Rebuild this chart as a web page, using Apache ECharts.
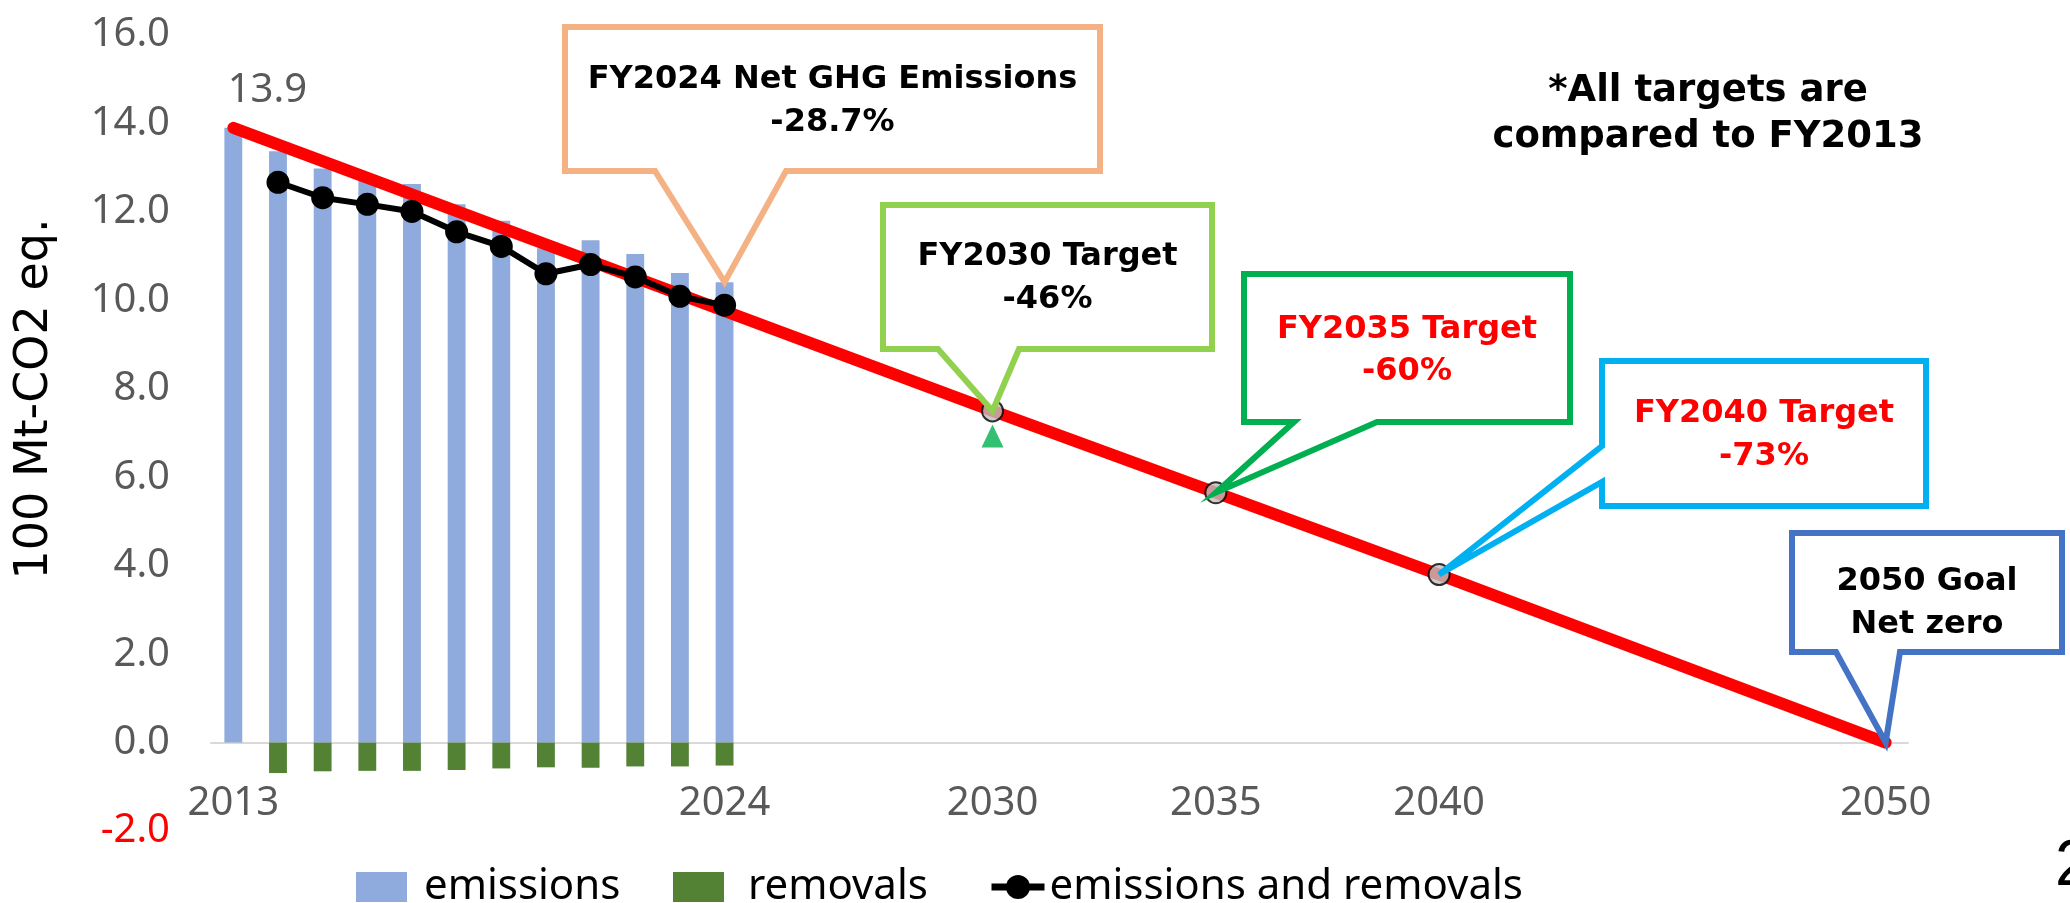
<!DOCTYPE html>
<html>
<head>
<meta charset="utf-8">
<script src="https://cdn.jsdelivr.net/npm/echarts@6/dist/echarts.min.js"></script>
<style>
  html, body { margin: 0; padding: 0; background: #fff; }
  #chart { width: 2070px; height: 903px; }
</style>
</head>
<body>
<div id="chart"></div>
<script>
const years = ['2013', '2014', '2015', '2016', '2017', '2018', '2019', '2020', '2021', '2022',
    '2023', '2024', '2025', '2026', '2027', '2028', '2029', '2030', '2031', '2032', '2033', '2034',
    '2035', '2036', '2037', '2038', '2039', '2040', '2041', '2042', '2043', '2044', '2045', '2046',
    '2047', '2048', '2049', '2050'];
const axisYears = ['2013', '2024', '2030', '2035', '2040', '2050'];

// 100 Mt-CO2 eq., FY2013..FY2024
const emissions = [13.9, 13.37, 12.98, 12.8, 12.63, 12.17, 11.8, 11.18, 11.36, 11.05, 10.62, 10.41];
const removals = [null, -0.69, -0.65, -0.64, -0.64, -0.62, -0.585, -0.56, -0.57, -0.54, -0.54, -0.52];
const netEmissions = [null, 12.67, 12.32, 12.17, 12.01, 11.55, 11.22, 10.6, 10.81, 10.53, 10.09, 9.89];

// reduction path and targets
const pathYears = ['2013', '2030', '2035', '2040', '2050'];
const pathValues = [13.9, 7.5, 5.65, 3.8, 0];
const targetYears = ['2030', '2035', '2040'];
const targetValues = [7.5, 5.65, 3.8];
const markerYears = ['2030'];
const markerValues = [6.93];

const yMin = -2, yMax = 16, yStep = 2;

const chart = echarts.init(document.getElementById('chart'));
const gray = '#595959';
const labelFont = 'Noto Sans';
const boxFont = 'DejaVu Sans';

const idx = y => years.indexOf(y);

const legendText = { color: '#000', fontFamily: labelFont, fontSize: 42, lineHeight: 42 };

chart.setOption({
    animation: false,
    backgroundColor: '#fff',
    grid: { left: 211, right: 162, top: 35, bottom: 72, containLabel: false },
    legend: [
        {
            data: ['emissions'], left: 351, top: 861, itemWidth: 51, itemHeight: 30, icon: 'rect',
            textStyle: Object.assign({ padding: [0, 0, 0, 12] }, legendText)
        },
        {
            data: ['removals'], left: 668, top: 861, itemWidth: 51, itemHeight: 30, icon: 'rect',
            textStyle: Object.assign({ padding: [0, 0, 0, 19] }, legendText)
        },
        {
            data: ['emissions and removals'], left: 983, top: 861, itemWidth: 53, itemHeight: 30,
            lineStyle: { width: 7 },
            textStyle: legendText
        }
    ],
    xAxis: {
        type: 'category',
        data: years,
        boundaryGap: true,
        axisLine: { onZero: true, lineStyle: { color: '#D9D9D9', width: 2 } },
        axisTick: { show: false },
        axisLabel: {
            interval: (i, v) => axisYears.includes(v),
            color: gray, fontFamily: labelFont, fontSize: 40, margin: -47
        },
        splitLine: { show: false }
    },
    yAxis: {
        type: 'value',
        min: yMin, max: yMax, interval: yStep,
        axisLine: { show: false },
        axisTick: { show: false },
        splitLine: { show: false },
        axisLabel: {
            formatter: v => v.toFixed(1),
            color: v => (Number(v) < 0 ? '#FF0000' : gray),
            fontFamily: labelFont, fontSize: 40, margin: 41
        }
    },
    series: [
        {
            name: 'emissions', type: 'bar', barWidth: '40%', barGap: '-100%',
            data: emissions.map((v, i) => i === 0 ? {
                value: v,
                label: {
                    show: true, position: 'top', distance: 5, offset: [34, -12],
                    formatter: p => p.value.toFixed(1),
                    color: gray, fontFamily: labelFont, fontSize: 40
                }
            } : v),
            itemStyle: { color: '#8FAADC' }
        },
        {
            name: 'removals', type: 'bar', data: removals, barWidth: '40%', barGap: '-100%',
            itemStyle: { color: '#548235' }
        },
        {
            name: 'path', type: 'line',
            data: pathYears.map((y, i) => [idx(y), pathValues[i]]),
            showSymbol: false, symbol: 'none',
            lineStyle: { color: '#FF0000', width: 12, cap: 'round' },
            z: 3
        },
        {
            name: 'targets', type: 'scatter',
            data: targetYears.map((y, i) => [idx(y), targetValues[i]]),
            symbol: 'circle', symbolSize: 21,
            itemStyle: { color: '#BFBFBF', borderColor: '#000', borderWidth: 2 },
            z: 4
        },
        {
            name: 'marker', type: 'scatter',
            data: markerYears.map((y, i) => [idx(y), markerValues[i]]),
            symbol: 'triangle', symbolSize: [22, 23],
            itemStyle: { color: '#00B050' },
            z: 4
        },
        {
            name: 'emissions and removals', type: 'line', data: netEmissions,
            symbol: 'circle', symbolSize: 23,
            lineStyle: { color: '#000', width: 6 },
            itemStyle: { color: '#000' },
            z: 5
        }
    ]
});

// callouts pointing at data points
const px = (y, v) => chart.convertToPixel({ gridIndex: 0 }, [idx(y), v]);

const callouts = [
    { box: [565, 27, 1100, 171], color: '#F4B183', edge: 'bottom', base: [655, 786],
      tip: px('2024', emissions[11]), lines: ['FY2024 Net GHG Emissions', '-28.7%'], textY: [80, 123], fill: '#000' },
    { box: [883, 205, 1212, 349], color: '#92D050', edge: 'bottom', base: [938, 1019],
      tip: px('2030', targetValues[0]), lines: ['FY2030 Target', '-46%'], textY: [257, 300], fill: '#000' },
    { box: [1244, 274, 1570, 422], color: '#00B050', edge: 'bottom', base: [1294, 1377],
      tip: px('2035', targetValues[1]), lines: ['FY2035 Target', '-60%'], textY: [330, 372], fill: '#FF0000' },
    { box: [1602, 361, 1926, 506], color: '#00B0F0', edge: 'left', base: [446, 482],
      tip: px('2040', targetValues[2]), lines: ['FY2040 Target', '-73%'], textY: [414, 457], fill: '#FF0000' },
    { box: [1792, 533, 2062, 652], color: '#4472C4', edge: 'bottom', base: [1836, 1900],
      tip: px('2050', pathValues[4]), lines: ['2050 Goal', 'Net zero'], textY: [582, 625], fill: '#000' }
];

const graphics = [];
callouts.forEach(c => {
    const [x0, y0, x1, y1] = c.box;
    let pts;
    if (c.edge === 'bottom') {
        pts = [[x0, y0], [x1, y0], [x1, y1], [c.base[1], y1], c.tip, [c.base[0], y1], [x0, y1]];
    } else {
        pts = [[x0, y0], [x1, y0], [x1, y1], [x0, y1], [x0, c.base[1]], c.tip, [x0, c.base[0]]];
    }
    graphics.push({
        type: 'polygon', z: 100, shape: { points: pts },
        style: { fill: '#fff', stroke: c.color, lineWidth: 6, lineJoin: 'miter' }
    });
    c.lines.forEach((t, i) => {
        graphics.push({
            type: 'text', z: 101, x: (x0 + x1) / 2, y: c.textY[i],
            style: { text: t, fill: c.fill, font: 'bold 32px "' + boxFont + '"', align: 'center', verticalAlign: 'middle' }
        });
    });
});

['*All targets are', 'compared to FY2013'].forEach((t, i) => {
    graphics.push({
        type: 'text', z: 101, x: 1708, y: [91, 137][i],
        style: { text: t, fill: '#000', font: 'bold 37px "' + boxFont + '"', align: 'center', verticalAlign: 'middle' }
    });
});

// y axis title
graphics.push({
    type: 'text', z: 101, x: 35, y: 399, rotation: Math.PI / 2,
    style: { text: '100 Mt-CO2 eq.', fill: '#000', font: '46px "' + boxFont + '"', align: 'center', verticalAlign: 'middle' }
});

graphics.push({
    type: 'text', z: 101, x: 2055, y: 867,
    style: { text: '2', fill: '#000', font: '64px "Liberation Sans"', align: 'left', verticalAlign: 'middle' }
});

chart.setOption({ graphic: graphics });

window.addEventListener('resize', () => chart.resize());
</script>
</body>
</html>
